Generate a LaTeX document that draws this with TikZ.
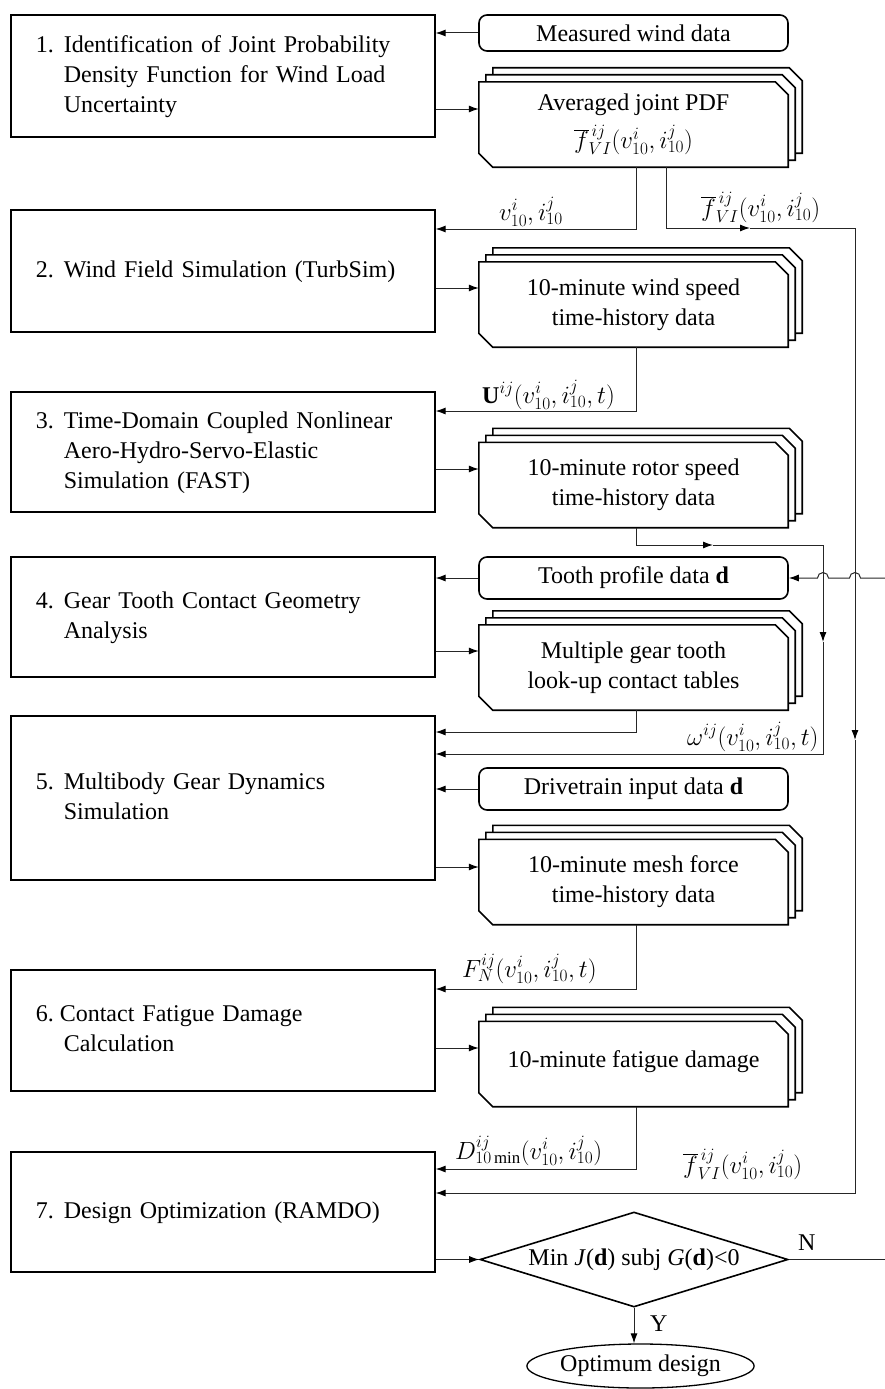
\documentclass[tikz,border=0pt]{standalone}
\usepackage{fontspec}
\setmainfont{Liberation Serif}
\usetikzlibrary{arrows.meta,shapes.geometric,calc,backgrounds}

% three stacked "document" outlines behind a named node
\newcommand{\docstack}[1]{%
  \begin{pgfonlayer}{background}
    \foreach \o in {14,7,0}{
      \draw[docline]
        ($(#1.south west)+(\o,\o+14)$) -- ($(#1.north west)+(\o,\o)$)
        -- ($(#1.north east)+(\o-13,\o)$) -- ($(#1.north east)+(\o,\o-13)$)
        -- ($(#1.south east)+(\o,\o)$) -- ($(#1.south west)+(\o+14,\o)$) -- cycle;
    }
  \end{pgfonlayer}}

\begin{document}
\begin{tikzpicture}[x=1pt,y=1pt,
  txt/.style={font=\fontsize{24}{30}\selectfont},
  stepbox/.style={txt, draw, line width=1.6pt, anchor=west, minimum width=424pt,
    inner xsep=25pt, inner ysep=0pt, text width=374pt, align=left},
  datanode/.style={txt, minimum width=309pt, minimum height=85pt, inner sep=0pt, align=center},
  roundbox/.style={txt, draw, line width=1.6pt, rounded corners=8pt,
    minimum width=309pt, minimum height=42pt, inner sep=0pt},
  docline/.style={line width=1.6pt, fill=white, line join=miter},
  conn/.style={line width=1pt, draw=black!85},
  arr/.style={conn, -{Latex[length=10pt,width=7pt,black]}},
  lbl/.style={txt, inner sep=0pt, anchor=base west},
]
\useasboundingbox (0,0) rectangle (885,-1389);

% process steps
\node[stepbox, minimum height=122pt] (b1) at (10,-76)
  {\begin{tabular}{@{}p{28pt}@{}l@{}}1. & Identification of Joint Probability\\ & Density Function for Wind Load\\ & Uncertainty\end{tabular}};
\node[stepbox, minimum height=122pt] (b2) at (10,-271)
  {\begin{tabular}{@{}p{28pt}@{}l@{}}2. & Wind Field Simulation (TurbSim)\end{tabular}};
\node[stepbox, minimum height=120pt] (b3) at (10,-452)
  {\begin{tabular}{@{}p{28pt}@{}l@{}}3. & Time-Domain Coupled Nonlinear\\ & Aero-Hydro-Servo-Elastic\\ & Simulation (FAST)\end{tabular}};
\node[stepbox, minimum height=120pt] (b4) at (10,-617)
  {\begin{tabular}{@{}p{28pt}@{}l@{}}4. & Gear Tooth Contact Geometry\\ & Analysis\end{tabular}};
\node[stepbox, minimum height=164pt] (b5) at (10,-798)
  {\begin{tabular}{@{}p{28pt}@{}l@{}}5. & Multibody Gear Dynamics\\ & Simulation\end{tabular}};
\node[stepbox, minimum height=121pt] (b6) at (10,-1030.5)
  {\begin{tabular}{@{}p{24pt}@{}l@{}}6. & Contact Fatigue Damage\\ & \hspace{4pt}Calculation\end{tabular}};
\node[stepbox, minimum height=120pt] (b7) at (10,-1212)
  {\begin{tabular}{@{}p{28pt}@{}l@{}}7. & Design Optimization (RAMDO)\end{tabular}};

% data items
\node[roundbox, minimum height=36pt] (mw) at (633.5,-33) {Measured wind data};
\node[datanode] (pdf) at (633.5,-124.5)
  {\raisebox{4pt}{Averaged joint PDF}\\[4pt] $\overline{f}^{\,ij}_{VI}(v^{i}_{10},i^{j}_{10})$};
\node[datanode] (ws) at (633.5,-304.5) {10-minute wind speed\\time-history data};
\node[datanode] (rs) at (633.5,-485) {10-minute rotor speed\\time-history data};
\node[roundbox] (tp) at (633.5,-578) {Tooth profile data \textbf{d}};
\node[datanode] (gt) at (633.5,-667.5) {Multiple gear tooth\\look-up contact tables};
\node[roundbox] (dt) at (633.5,-789) {Drivetrain input data \textbf{d}};
\node[datanode] (mf) at (633.5,-882) {10-minute mesh force\\time-history data};
\node[datanode] (fd) at (633.5,-1064) {\raisebox{9pt}{10-minute fatigue damage}};

\docstack{pdf}
\docstack{ws}
\docstack{rs}
\docstack{gt}
\docstack{mf}
\docstack{fd}

% decision and result
\node[txt, diamond, draw, line width=1.6pt, aspect=3.24, inner sep=0pt,
  minimum width=308pt, minimum height=95pt] (opt) at (634,-1259.5)
  {Min \textit{J}(\textbf{d}) subj \textit{G}(\textbf{d})<0};
\node[txt, ellipse, draw, line width=1.3pt, minimum width=205pt, minimum height=44pt,
  inner sep=0pt] (od) at (640.5,-1366) {Optimum design};

% corner points of the routed connectors
\coordinate (fa) at (750,-228);
\coordinate (fb) at (855,-228);
\coordinate (fc) at (855,-740);
\coordinate (wa) at (713,-545);
\coordinate (wb) at (823,-642);
\coordinate (dn) at (885,-578);
\coordinate (nn) at (885,-1259.5);

% inputs to the steps
\draw[arr] (mw.west) -- (b1.east |- mw.west);
\draw[arr] (tp.west) -- (b4.east |- tp.west);
\draw[arr] (dt.west) -- (b5.east |- dt.west);

% step outputs
\draw[arr] (b1.east |- 0,-109) -- (pdf.west |- 0,-109);
\draw[arr] (b2.east |- 0,-288) -- (ws.west |- 0,-288);
\draw[arr] (b3.east |- 0,-469) -- (rs.west |- 0,-469);
\draw[arr] (b4.east |- 0,-651) -- (gt.west |- 0,-651);
\draw[arr] (b5.east |- 0,-867) -- (mf.west |- 0,-867);
\draw[arr] (b6.east |- 0,-1048) -- (fd.west |- 0,-1048);
\draw[arr] (b7.east |- opt.west) -- (opt.west);

% data passed down to the next step
\draw[arr] ([xshift=3pt]pdf.south) |- (b2.east |- 0,-229);
\draw[arr] ([xshift=3pt]ws.south) |- (b3.east |- 0,-411);
\draw[arr] ([xshift=3pt]gt.south) |- (b5.east |- 0,-732);
\draw[arr] ([xshift=3pt]mf.south) |- (b6.east |- 0,-989);
\draw[arr] ([xshift=3pt]fd.south) |- (b7.east |- 0,-1169);

% rotor speed to the gear dynamics step
\draw[arr] ([xshift=3pt]rs.south) |- (wa);
\draw[arr] (wa) -| (wb);
\draw[arr] (wb) |- (b5.east |- 0,-754);

% joint PDF to the optimization step
\draw[arr] ([xshift=33pt]pdf.south) |- (fa);
\draw[arr] (fa) -- (fb) -- (fc);
\draw[arr] (fc) |- (b7.east |- 0,-1193);

% design update loop
\draw[arr] (dn) -- (860.5,-578) arc[start angle=0,end angle=180,radius=5.5]
  -- (828.5,-578) arc[start angle=0,end angle=180,radius=5.5] -- (tp.east);
\draw[conn] (opt.east) -- (nn);
\draw[arr] (opt.south) -- (opt.south |- od.north);

% connector labels
\node[lbl, anchor=base east] (l1) at (563,-220) {$v^{i}_{10}, i^{j}_{10}$};
\node[lbl] (l2) at (701,-216) {$\overline{f}^{\,ij}_{VI}(v^{i}_{10},i^{j}_{10})$};
\node[lbl] (l3) at (482,-403) {\textbf{U}$^{ij}(v^{i}_{10},i^{j}_{10},t)$};
\node[lbl] (l4) at (687,-745) {$\omega^{ij}(v^{i}_{10},i^{j}_{10},t)$};
\node[lbl] (l5) at (462,-977) {$F^{ij}_{N}(v^{i}_{10},i^{j}_{10},t)$};
\node[lbl] (l6) at (455,-1159) {$D^{ij}_{10\,\mathrm{min}}(v^{i}_{10},i^{j}_{10})$};
\node[lbl] (l7) at (683,-1173) {$\overline{f}^{\,ij}_{VI}(v^{i}_{10},i^{j}_{10})$};
\node[lbl] (l8) at (798,-1250) {N};
\node[lbl] (l9) at (650,-1331) {Y};
\end{tikzpicture}
\end{document}
